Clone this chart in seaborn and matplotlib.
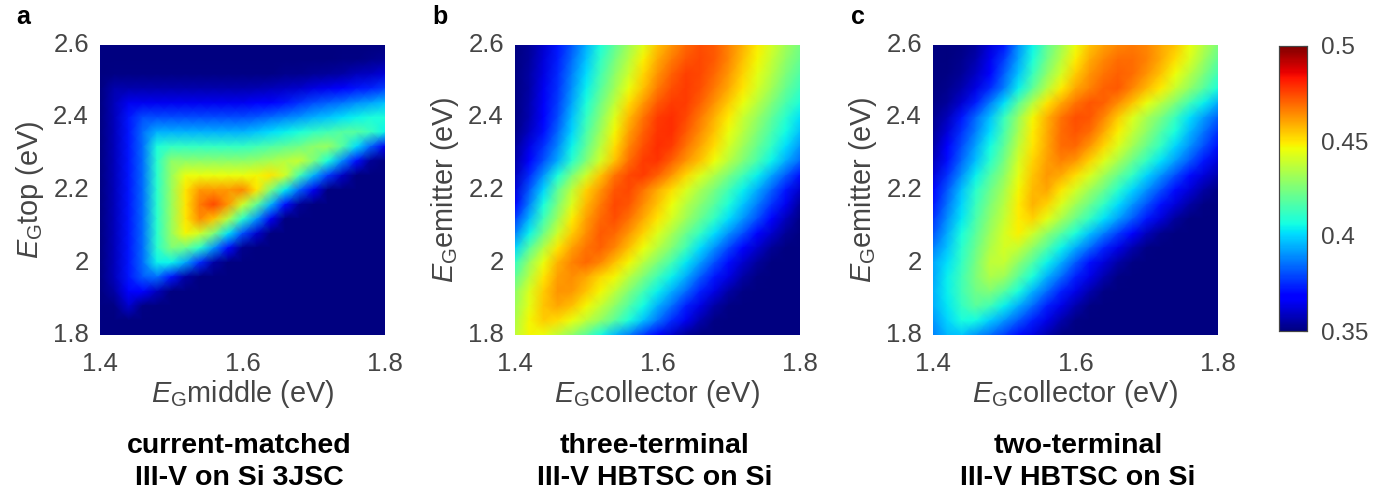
import matplotlib
matplotlib.use("Agg")
import matplotlib.pyplot as plt
import numpy as np
import pandas as pd
import seaborn as sns

# Band gap axes, rows run from the top of the plot downwards
eg_low = [1.40, 1.42, 1.44, 1.46, 1.48, 1.50, 1.52, 1.54, 1.56, 1.58, 1.60,
          1.62, 1.64, 1.66, 1.68, 1.70, 1.72, 1.74, 1.76, 1.78, 1.80]
eg_high = [2.60, 2.56, 2.52, 2.48, 2.44, 2.40, 2.36, 2.32, 2.28, 2.24, 2.20,
           2.16, 2.12, 2.08, 2.04, 2.00, 1.96, 1.92, 1.88, 1.84, 1.80]

# Efficiency x 1000
eff_3jsc = [
    [350,350,350,350,350,350,350,350,350,350,350,350,350,350,350,350,350,350,350,350,350],
    [350,350,350,350,350,350,350,350,350,350,350,350,350,350,350,350,350,351,351,352,353],
    [350,351,351,351,351,351,351,351,351,351,351,351,351,352,352,353,354,355,358,359,362],
    [350,356,356,356,356,356,356,356,356,356,356,357,358,359,360,363,365,368,372,374,378],
    [350,358,365,365,365,365,365,365,365,365,365,367,369,372,376,380,383,386,390,393,397],
    [350,358,372,380,380,380,380,380,380,380,380,382,385,388,391,395,398,402,405,408,408],
    [350,358,372,385,395,395,395,395,395,395,395,398,401,404,408,412,415,418,418,413,405],
    [350,358,372,385,408,412,412,412,412,412,412,414,417,420,423,428,430,418,401,383,365],
    [350,358,372,385,410,428,428,428,428,428,428,430,433,436,438,425,407,389,371,353,350],
    [350,358,372,385,410,430,445,445,445,445,445,447,450,440,415,395,377,359,350,350,350],
    [350,358,372,385,410,430,450,462,462,462,465,450,425,403,383,365,350,350,350,350,350],
    [350,358,372,385,410,430,450,467,475,462,440,420,395,371,353,350,350,350,350,350,350],
    [350,358,372,385,410,430,450,464,455,435,410,390,365,350,350,350,350,350,350,350,350],
    [350,358,372,385,410,430,447,440,425,402,380,360,350,350,350,350,350,350,350,350,350],
    [350,358,372,385,410,425,422,410,390,370,352,350,350,350,350,350,350,350,350,350,350],
    [350,358,372,385,405,405,393,375,355,350,350,350,350,350,350,350,350,350,350,350,350],
    [350,358,372,382,385,372,355,350,350,350,350,350,350,350,350,350,350,350,350,350,350],
    [350,355,368,368,358,350,350,350,350,350,350,350,350,350,350,350,350,350,350,350,350],
    [350,351,360,351,350,350,350,350,350,350,350,350,350,350,350,350,350,350,350,350,350],
    [350,350,350,350,350,350,350,350,350,350,350,350,350,350,350,350,350,350,350,350,350],
    [350,350,350,350,350,350,350,350,350,350,350,350,350,350,350,350,350,350,350,350,350],
]

eff_three = [
    [350,353,360,372,382,395,408,420,432,443,455,463,470,474,472,466,458,449,441,432,424],
    [350,354,362,373,385,398,411,424,436,448,459,467,473,475,472,465,456,447,438,429,421],
    [350,355,363,375,388,401,415,428,440,452,463,471,476,475,470,462,453,444,435,425,417],
    [350,355,365,376,390,404,418,432,445,456,467,474,477,474,467,459,450,441,432,421,413],
    [350,356,366,378,393,408,423,437,451,462,472,477,477,471,463,454,445,436,426,416,408],
    [350,357,368,380,397,412,427,443,457,468,477,479,475,467,458,449,439,430,420,410,402],
    [351,359,371,384,400,416,431,447,461,471,478,479,472,464,455,445,436,426,416,406,397],
    [353,364,376,389,405,420,436,451,465,474,479,477,468,460,451,441,431,421,411,401,391],
    [355,369,381,394,410,426,441,456,469,477,478,471,463,455,446,436,426,416,405,394,384],
    [358,375,391,408,425,440,455,468,475,477,471,462,452,443,434,424,414,404,393,382,371],
    [362,382,400,420,437,453,463,473,475,468,459,451,442,433,424,414,404,394,383,372,360],
    [368,388,407,425,442,457,467,475,473,464,455,446,436,427,418,408,398,387,376,365,354],
    [378,396,414,432,449,461,470,474,468,459,450,441,431,421,411,401,391,380,369,358,351],
    [388,405,423,440,454,464,472,470,462,453,443,433,422,412,401,390,380,369,360,353,350],
    [400,418,435,450,461,468,471,465,456,446,436,426,414,401,390,379,369,360,353,350,350],
    [412,430,445,458,466,470,465,456,447,436,425,415,403,392,380,370,360,354,350,350,350],
    [420,436,450,461,464,460,452,447,436,425,414,404,394,382,372,363,355,351,350,350,350],
    [428,442,454,463,462,455,447,437,426,415,404,394,384,373,363,355,351,350,350,350,350],
    [431,444,455,460,456,447,438,428,417,406,395,385,373,363,355,351,350,350,350,350,350],
    [434,447,454,451,445,437,429,419,408,397,386,375,365,356,351,350,350,350,350,350,350],
    [437,447,445,437,428,418,406,396,387,377,368,360,353,350,350,350,350,350,350,350,350],
]

eff_two = [
    [350,350,351,354,362,372,390,405,420,432,445,455,461,465,467,465,460,455,445,435,425],
    [350,350,352,356,365,378,393,408,423,436,449,459,465,469,469,466,459,451,442,431,420],
    [350,351,353,359,369,383,398,413,428,441,454,463,468,471,469,463,455,446,436,425,414],
    [350,352,356,363,375,388,404,420,436,449,460,466,471,472,465,457,449,439,429,418,407],
    [351,354,361,373,387,402,419,435,450,460,468,473,471,464,455,445,436,426,414,404,394],
    [352,358,372,384,397,413,430,447,458,468,474,473,465,454,443,433,424,413,402,392,383],
    [353,362,376,388,401,416,433,449,459,469,473,469,459,448,438,428,417,407,396,386,376],
    [355,367,380,393,406,420,437,450,460,469,470,462,452,442,432,421,411,400,390,380,371],
    [358,371,384,397,410,424,441,453,461,466,462,453,443,433,422,412,402,392,382,372,362],
    [362,376,390,404,417,429,444,455,462,459,451,442,432,421,411,400,390,380,370,362,356],
    [368,382,397,410,422,433,447,457,460,450,441,431,422,410,400,390,380,370,362,355,351],
    [372,386,400,413,425,436,449,458,453,442,432,422,411,401,391,381,371,362,355,351,350],
    [376,390,403,416,428,438,449,453,444,433,422,412,402,392,382,372,362,354,350,350,350],
    [381,394,407,419,431,441,448,440,429,418,408,397,387,377,367,358,352,350,350,350,350],
    [387,398,410,422,434,441,438,428,417,405,394,384,374,364,356,351,350,350,350,350,350],
    [393,402,412,424,437,438,428,417,405,394,382,371,362,355,351,350,350,350,350,350,350],
    [393,404,414,425,434,431,419,407,395,384,373,364,356,351,350,350,350,350,350,350,350],
    [395,404,414,423,426,418,407,395,384,373,364,356,351,350,350,350,350,350,350,350,350],
    [394,403,412,419,414,404,394,384,373,364,356,351,350,350,350,350,350,350,350,350,350],
    [391,400,407,406,399,391,382,373,364,356,351,350,350,350,350,350,350,350,350,350,350],
    [388,396,398,391,385,378,370,363,356,351,350,350,350,350,350,350,350,350,350,350,350],
]

panel_letters = ["a", "b", "c"]
x_names = ["middle", "collector", "collector"]
y_names = ["top", "emitter", "emitter"]
titles = ["current-matched\nIII-V on Si 3JSC", "three-terminal\nIII-V HBTSC on Si", "two-terminal\nIII-V HBTSC on Si"]
x_ticks = ["1.4", "1.6", "1.8"]
y_ticks = ["2.6", "2.4", "2.2", "2", "1.8"]
cbar_ticks = [0.35, 0.4, 0.45, 0.5]

sns.set_style("white")
plt.rcParams["font.family"] = ["Liberation Sans", "DejaVu Sans"]
plt.rcParams["mathtext.fontset"] = "custom"
plt.rcParams["mathtext.rm"] = "Liberation Sans"
plt.rcParams["mathtext.it"] = "Liberation Sans:italic"

W, H = 1380, 497
GREY = "#454545"


def px_axes(fig, left, top, right, bottom):
    return fig.add_axes([left / W, 1 - bottom / H, (right - left) / W, (bottom - top) / H])


fig = plt.figure(figsize=(W / 100, H / 100), dpi=100)

lefts = [100, 515, 933]
title_x = [239, 655, 1078]
cax = px_axes(fig, 1279, 46, 1307, 331)
tables = [eff_3jsc, eff_three, eff_two]

for i, table in enumerate(tables):
    ax = px_axes(fig, lefts[i], 45, lefts[i] + 285, 335)
    df = pd.DataFrame(np.array(table) / 1000, index=eg_high, columns=eg_low)
    # gouraud blends the read values between cells, the original grid is much finer
    sns.heatmap(df, ax=ax, cmap="jet", vmin=0.35, vmax=0.5, shading="gouraud",
                cbar=i == 2, cbar_ax=cax if i == 2 else None)
    nx, ny = len(eg_low) - 1, len(eg_high) - 1
    ax.set_xlim(0, nx)
    ax.set_ylim(ny, 0)
    ax.set_xticks(np.linspace(0, nx, 3))
    ax.set_xticklabels(x_ticks, rotation=0, fontsize=18.5, color=GREY)
    ax.set_yticks(np.linspace(0, ny, 5))
    ax.set_yticklabels(y_ticks, rotation=0, fontsize=18.5, color=GREY)
    ax.tick_params(axis="x", length=0, pad=12)
    ax.tick_params(axis="y", length=0, pad=8)
    ax.set_xlabel(r"$\mathit{E}_{\mathrm{G}}$" + x_names[i] + " (eV)", fontsize=20.8, color=GREY, labelpad=2)
    ax.set_ylabel(r"$\mathit{E}_{\mathrm{G}}$" + y_names[i] + " (eV)", fontsize=20.8, color=GREY, labelpad=5)
    fig.text(title_x[i] / W, 1 - 462 / H, titles[i], ha="center", va="center",
             fontsize=20.5, fontweight="bold", color="black", linespacing=1.33)

for x, letter in zip([16, 432, 851], panel_letters):
    fig.text(x / W, 1 - 17 / H, letter, ha="left", va="center", fontsize=18, fontweight="bold", color="black")

cax.set_yticks(cbar_ticks)
cax.set_yticklabels(["0.35", "0.4", "0.45", "0.5"], fontsize=17.5, color=GREY)
cax.tick_params(length=3, width=0.8, direction="in", color=GREY, pad=10, right=True)
for spine in cax.spines.values():
    spine.set_visible(True)
    spine.set_color(GREY)
    spine.set_linewidth(0.8)

fig.savefig("out.png", dpi=100)
